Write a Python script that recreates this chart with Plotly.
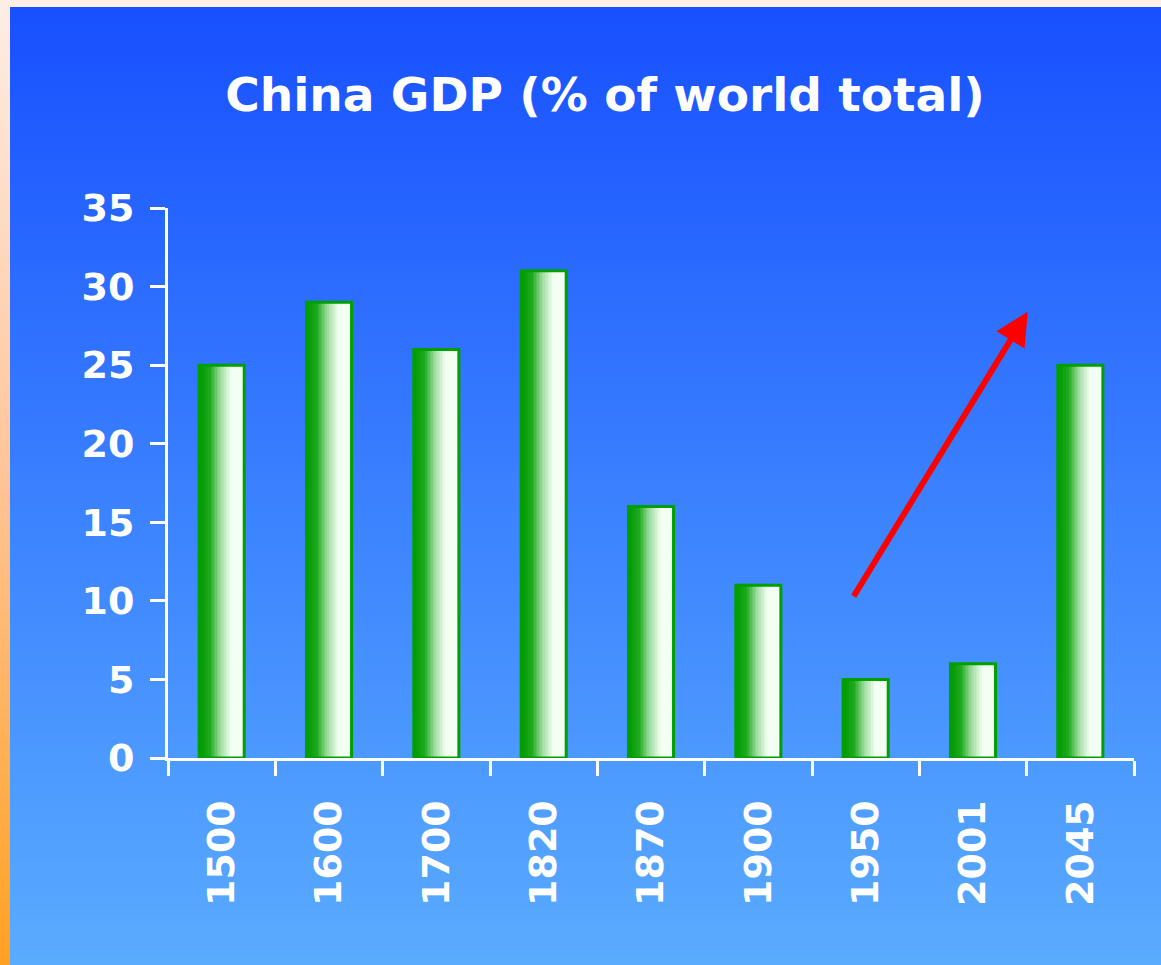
import plotly.graph_objects as go

# ---------------- data ----------------
years = ["1500", "1600", "1700", "1820", "1870", "1900", "1950", "2001", "2045"]
gdp_share = [25, 29, 26, 31, 16, 11, 5, 6, 25]
y_ticks = [0, 5, 10, 15, 20, 25, 30, 35]
title_text = "China GDP (% of world total)"
# arrow (data units: category index, percent)
arrow_start = (5.88, 10.2)
arrow_end = (7.51, 28.4)

# ---------------- layout geometry ----------------
W, H = 1161, 965
L, R, T, B = 168, 27, 208, 207
PW, PH = W - L - R, H - T - B


def px_to_paper(px, py):
    return (px - L) / PW, (H - B - py) / PH


def lerp(c1, c2, t):
    t = max(0.0, min(1.0, t))
    return tuple(int(round(a + (b - a) * t)) for a, b in zip(c1, c2))


def rgb(c):
    return "rgb(%d,%d,%d)" % c


shapes = []
# blue background gradient
n_bg = 120
blue_top, blue_mid, blue_bot = (24, 80, 255), (58, 128, 255), (90, 172, 255)
y0_px, y1_px = 7, H
for i in range(n_bg):
    a = y0_px + (y1_px - y0_px) * i / n_bg
    b = y0_px + (y1_px - y0_px) * (i + 1) / n_bg + 0.8
    t = (i + 0.5) / n_bg
    c = lerp(blue_top, blue_mid, t / 0.5) if t < 0.5 else lerp(blue_mid, blue_bot, (t - 0.5) / 0.5)
    x0, ya = px_to_paper(10, a)
    x1, yb = px_to_paper(W + 2, b)
    shapes.append(dict(type="rect", xref="paper", yref="paper", x0=x0, x1=x1, y0=yb, y1=ya,
                       fillcolor=rgb(c), line=dict(width=0), layer="below"))
# orange left strip gradient
o_top, o_mid, o_bot = (253, 238, 230), (255, 196, 150), (255, 160, 32)
for i in range(n_bg):
    a = H * i / n_bg
    b = H * (i + 1) / n_bg + 0.8
    t = (i + 0.5) / n_bg
    c = lerp(o_top, o_mid, t / 0.5) if t < 0.5 else lerp(o_mid, o_bot, (t - 0.5) / 0.5)
    x0, ya = px_to_paper(-2, a)
    x1, yb = px_to_paper(10, b)
    shapes.append(dict(type="rect", xref="paper", yref="paper", x0=x0, x1=x1, y0=yb, y1=ya,
                       fillcolor=rgb(c), line=dict(width=0), layer="below"))

fig = go.Figure()

# gradient-filled bars via thin overlaid slices
bar_w = 0.42
n_sl = 30
g_dark, g_mid, g_light, g_white = (0, 150, 0), (30, 170, 30), (160, 220, 160), (242, 255, 242)
for k in range(n_sl):
    t = (k + 0.5) / n_sl
    if t < 0.25:
        c = lerp(g_dark, g_mid, t / 0.25)
    elif t < 0.48:
        c = lerp(g_mid, g_light, (t - 0.25) / 0.23)
    elif t < 0.72:
        c = lerp(g_light, g_white, (t - 0.48) / 0.24)
    else:
        c = g_white
    fig.add_trace(go.Bar(
        x=years, y=gdp_share,
        width=bar_w / n_sl * 1.15, offset=-bar_w / 2 + bar_w * k / n_sl,
        marker=dict(color=rgb(c), line=dict(width=0)),
        showlegend=False, hoverinfo="skip"))
# outline
fig.add_trace(go.Bar(
    x=years, y=gdp_share, width=bar_w,
    marker=dict(color="rgba(0,0,0,0)", line=dict(color="#00a000", width=3)),
    showlegend=False))

fig.update_layout(
    template="none",
    width=W, height=H,
    margin=dict(l=L, r=R, t=T, b=B, pad=0),
    paper_bgcolor="rgb(253,238,230)",
    plot_bgcolor="rgba(0,0,0,0)",
    barmode="overlay",
    shapes=shapes,
    title=dict(text=title_text, x=605 / W, xanchor="center", xref="container",
               y=1 - 95 / H, yanchor="middle", yref="container",
               font=dict(family="DejaVu Sans", size=47, color="white", weight="bold")),
    xaxis=dict(type="category", range=[-0.5, 8.5], showgrid=False, zeroline=False,
               showline=True, linecolor="white", linewidth=3,
               ticks="outside", ticklen=15, tickwidth=3, tickcolor="white",
               tickson="boundaries", tickangle=-90, ticklabelstandoff=24,
               tickfont=dict(family="DejaVu Sans", size=38, color="white", weight="bold"),
               automargin=False, fixedrange=True),
    yaxis=dict(range=[0, 35], tickvals=y_ticks, showgrid=False, zeroline=False,
               showline=True, linecolor="white", linewidth=3,
               ticks="outside", ticklen=15, tickwidth=3, tickcolor="white",
               ticklabelstandoff=8,
               tickfont=dict(family="DejaVu Sans", size=38, color="white", weight="bold"),
               automargin=False, fixedrange=True),
    annotations=[dict(x=arrow_end[0], y=arrow_end[1], ax=arrow_start[0], ay=arrow_start[1],
                      xref="x", yref="y", axref="x", ayref="y", text="",
                      showarrow=True, arrowhead=2, arrowsize=1.1, arrowwidth=6,
                      arrowcolor="#ff0000")],
)

fig.write_html("out.html", config={"displayModeBar": False},
               post_script="document.body.style.margin='0';")
